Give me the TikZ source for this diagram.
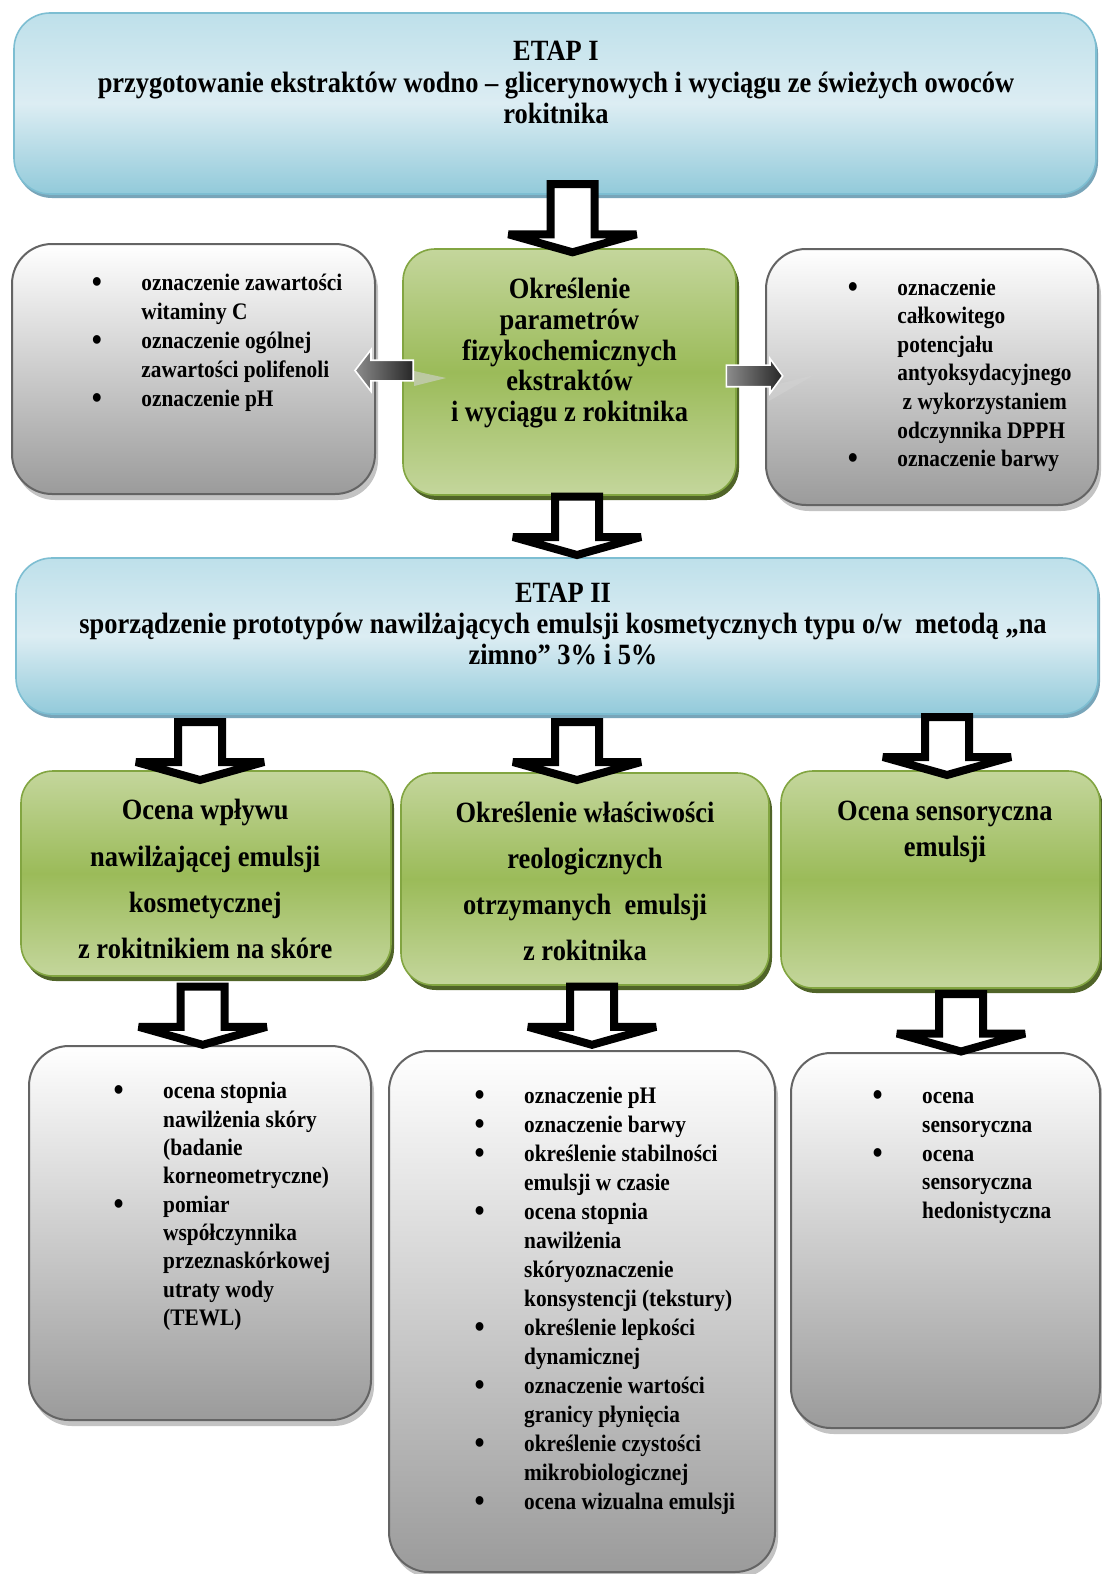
\documentclass[tikz,border=0pt]{standalone}
\usepackage{fontspec}
\setmainfont{Liberation Serif}[FakeStretch=0.9]
\usetikzlibrary{calc,shadows}
\definecolor{etA}{RGB}{190,224,234}
\definecolor{etB}{RGB}{220,237,243}
\definecolor{etC}{RGB}{146,202,218}
\definecolor{etLine}{RGB}{125,190,210}
\definecolor{etShadow}{RGB}{120,165,185}
\definecolor{grA}{RGB}{196,214,156}
\definecolor{grB}{RGB}{155,187,89}
\definecolor{grLine}{RGB}{130,165,65}
\definecolor{grShadow}{RGB}{80,100,40}
\definecolor{gyB}{RGB}{155,155,155}
\definecolor{gyLine}{RGB}{100,100,100}
\definecolor{gyShadow}{RGB}{195,195,195}
\newcommand\bul{\makebox[24.75pt][l]{\raisebox{-1pt}{\scalebox{1.35}{•}}}}
\newcommand\ind{\hspace*{24.75pt}}
\newcommand\bigrule{\rule{0pt}{13pt}}
\newcommand\smlrule{\rule{0pt}{10pt}}
\newcommand\blockarr[2]{%
  \draw[blockarrow] let \p1=#1, \p2=#2 in
  (\x2-11pt,\y1) -- (\x2+11pt,\y1) -- (\x2+11pt,\y2+9pt) -- (\x2+32pt,\y2+9pt)
  -- (\x2,\y2) -- (\x2-32pt,\y2+9pt) -- (\x2-11pt,\y2+9pt) -- cycle;}
\tikzset{
  etapbox/.style={draw=etLine, line width=0.8pt, rounded corners=18pt,
    top color=etA, bottom color=etC, middle color=etB,
    drop shadow={shadow xshift=1pt, shadow yshift=-2pt, fill=etShadow, opacity=1}, inner sep=0pt},
  greenbox/.style={draw=grLine, line width=0.8pt, rounded corners=16pt,
    top color=grA, bottom color=grA, middle color=grB,
    drop shadow={shadow xshift=1.5pt, shadow yshift=-2.5pt, fill=grShadow, opacity=1}, inner sep=0pt},
  graybox/.style={draw=gyLine, line width=1pt, rounded corners=20pt,
    top color=white, bottom color=gyB,
    drop shadow={shadow xshift=1.5pt, shadow yshift=-3pt, fill=gyShadow, opacity=1}, inner sep=0pt},
  bigtext/.style={inner sep=0pt, align=center, anchor=north,
    font=\bfseries\fontsize{14.7}{#1}\selectfont},
  listtext/.style={inner sep=0pt, align=left, anchor=north west,
    font=\bfseries\fontsize{11.85}{#1}\selectfont},
  blockarrow/.style={draw=black, fill=white, line width=4pt, line join=miter, miter limit=3},
  smallarrow/.style={draw=white, line width=0.8pt, left color=black!45, right color=black!85},
  wedge/.style={fill=gray!35, opacity=0.6, draw=none},
}
\begin{document}
\lineskiplimit=-50pt
\begin{tikzpicture}[x=0.5pt,y=-0.5pt]
\useasboundingbox (0,0) rectangle (1102,1574);
\fill[white] (0,0) rectangle (1102,1574);
% boxes
\node[etapbox, minimum width=541pt, minimum height=90.5pt] (etap1) at (555,103.5) {};
\node[graybox, minimum width=181.5pt, minimum height=125pt] (lg) at (193.5,369) {};
\node[greenbox, minimum width=166.5pt, minimum height=123pt] (cg) at (569.5,372) {};
\node[graybox, minimum width=166pt, minimum height=128pt] (rg) at (932,377) {};
\node[etapbox, minimum width=541pt, minimum height=78pt] (etap2) at (557,636) {};
\node[greenbox, minimum width=185pt, minimum height=102.5pt] (g1) at (206,873.5) {};
\node[greenbox, minimum width=184pt, minimum height=106pt] (g2) at (585,879) {};
\node[greenbox, minimum width=159.5pt, minimum height=108.5pt] (g3) at (940.5,879.5) {};
\node[graybox, minimum width=171pt, minimum height=187pt] (b1) at (200,1233) {};
\node[graybox, minimum width=193pt, minimum height=260.5pt] (b2) at (582,1311.5) {};
\node[graybox, minimum width=154.5pt, minimum height=187.5pt] (b3) at (945.5,1240.5) {};
% faint reflections of the small arrows
\fill[wedge] (414,371) -- (446,378) -- (414,386) -- cycle;
\fill[wedge] (771,386) -- (814,375) -- (769,401) -- cycle;
% small arrows
\draw[smallarrow] let \p1=($(cg.west)+(11,-1.5)$), \p2=($(lg.east)+(-21,1.5)$) in
  (\x1,\y2+5.15pt) -- (\x2+8pt,\y2+5.15pt) -- (\x2+8pt,\y2+10.4pt) -- (\x2,\y2)
  -- (\x2+8pt,\y2-10.4pt) -- (\x2+8pt,\y2-5.15pt) -- (\x1,\y2-5.15pt) -- cycle;
\draw[smallarrow] let \p1=($(cg.east)+(-10.5,3.9)$), \p2=($(rg.west)+(17.7,-1.1)$) in
  (\x1,\y2+5.4pt) -- (\x2-6.35pt,\y2+5.4pt) -- (\x2-6.35pt,\y2+8.65pt) -- (\x2,\y2)
  -- (\x2-6.35pt,\y2-8.65pt) -- (\x2-6.35pt,\y2-5.4pt) -- (\x1,\y2-5.4pt) -- cycle;
% texts
\node[bigtext=15.8pt] (t1) at (556,34.2) {\bigrule ETAP I\\przygotowanie ekstraktów wodno – glicerynowych i wyciągu ze świeżych owoców\\rokitnika};
\node[bigtext=15.3pt] (tcg) at (569.5,272.5) {\bigrule Określenie\\parametrów\\fizykochemicznych\\ekstraktów\\i wyciągu z rokitnika};
\node[bigtext=15.55pt] (t2) at (563,576.1) {\bigrule ETAP II\\sporządzenie prototypów nawilżających emulsji kosmetycznych typu o/w\ \ metodą „na\\zimno” 3\% i 5\%};
\node[bigtext=23.1pt] (tg1) at (205.2,793.4) {\bigrule Ocena wpływu\\nawilżającej emulsji\\kosmetycznej\\z rokitnikiem na skóre};
\node[bigtext=23.1pt] (tg2) at (585,795.9) {\bigrule Określenie właściwości\\reologicznych\\otrzymanych\ \ emulsji\\z rokitnika};
\node[bigtext=18.05pt] (tg3) at (944.9,794.4) {\bigrule Ocena sensoryczna\\emulsji};
\node[listtext=14.55pt] (tlg) at (91.5,269.6) {\smlrule\bul oznaczenie zawartości\\\ind witaminy C\\\bul oznaczenie ogólnej\\\ind zawartości polifenoli\\\bul oznaczenie pH};
\node[listtext=14.3pt] (trg) at (847.5,274.6) {\smlrule\bul oznaczenie\\\ind całkowitego\\\ind potencjału\\\ind antyoksydacyjnego\\\ind\ z wykorzystaniem\\\ind odczynnika DPPH\\\bul oznaczenie barwy};
\node[listtext=14.17pt] (tb1) at (113.3,1078.5) {\smlrule\bul ocena stopnia\\\ind nawilżenia skóry\\\ind (badanie\\\ind korneometryczne)\\\bul pomiar\\\ind współczynnika\\\ind przeznaskórkowej\\\ind utraty wody\\\ind (TEWL)};
\node[listtext=14.48pt] (tb2) at (474.3,1083.5) {\smlrule\bul oznaczenie pH\\\bul oznaczenie barwy\\\bul określenie stabilności\\\ind emulsji w czasie\\\bul ocena stopnia\\\ind nawilżenia\\\ind skóryoznaczenie\\\ind konsystencji (tekstury)\\\bul określenie lepkości\\\ind dynamicznej\\\bul oznaczenie wartości\\\ind granicy płynięcia\\\bul określenie czystości\\\ind mikrobiologicznej\\\bul ocena wizualna emulsji};
\node[listtext=14.3pt] (tb3) at (872.3,1083.5) {\smlrule\bul ocena\\\ind sensoryczna\\\bul ocena\\\ind sensoryczna\\\ind hedonistyczna};
% block arrows
\blockarr{($(etap1.south)+(17.5,-10.7)$)}{($(cg.north)+(3,4.1)$)}
\blockarr{($(cg.south)+(7.5,0.7)$)}{($(etap2.north)+(20,-2.2)$)}
\blockarr{($(etap2.south)+(0,7.3)$)}{($(g1.north)+(-6,9.8)$)}
\blockarr{($(etap2.south)+(0,7.3)$)}{($(g2.north)+(-8,7.8)$)}
\blockarr{($(etap2.south)+(0,2.3)$)}{($(g3.north)+(6.5,4.8)$)}
\blockarr{($(g1.south)+(0,9.7)$)}{($(b1.north)+(2.7,-0.2)$)}
\blockarr{($(g2.south)+(0,0.7)$)}{($(b2.north)+(10,-5.2)$)}
\blockarr{($(g3.south)+(0,5.3)$)}{($(b3.north)+(15.5,-0.5)$)}
\end{tikzpicture}
\end{document}
